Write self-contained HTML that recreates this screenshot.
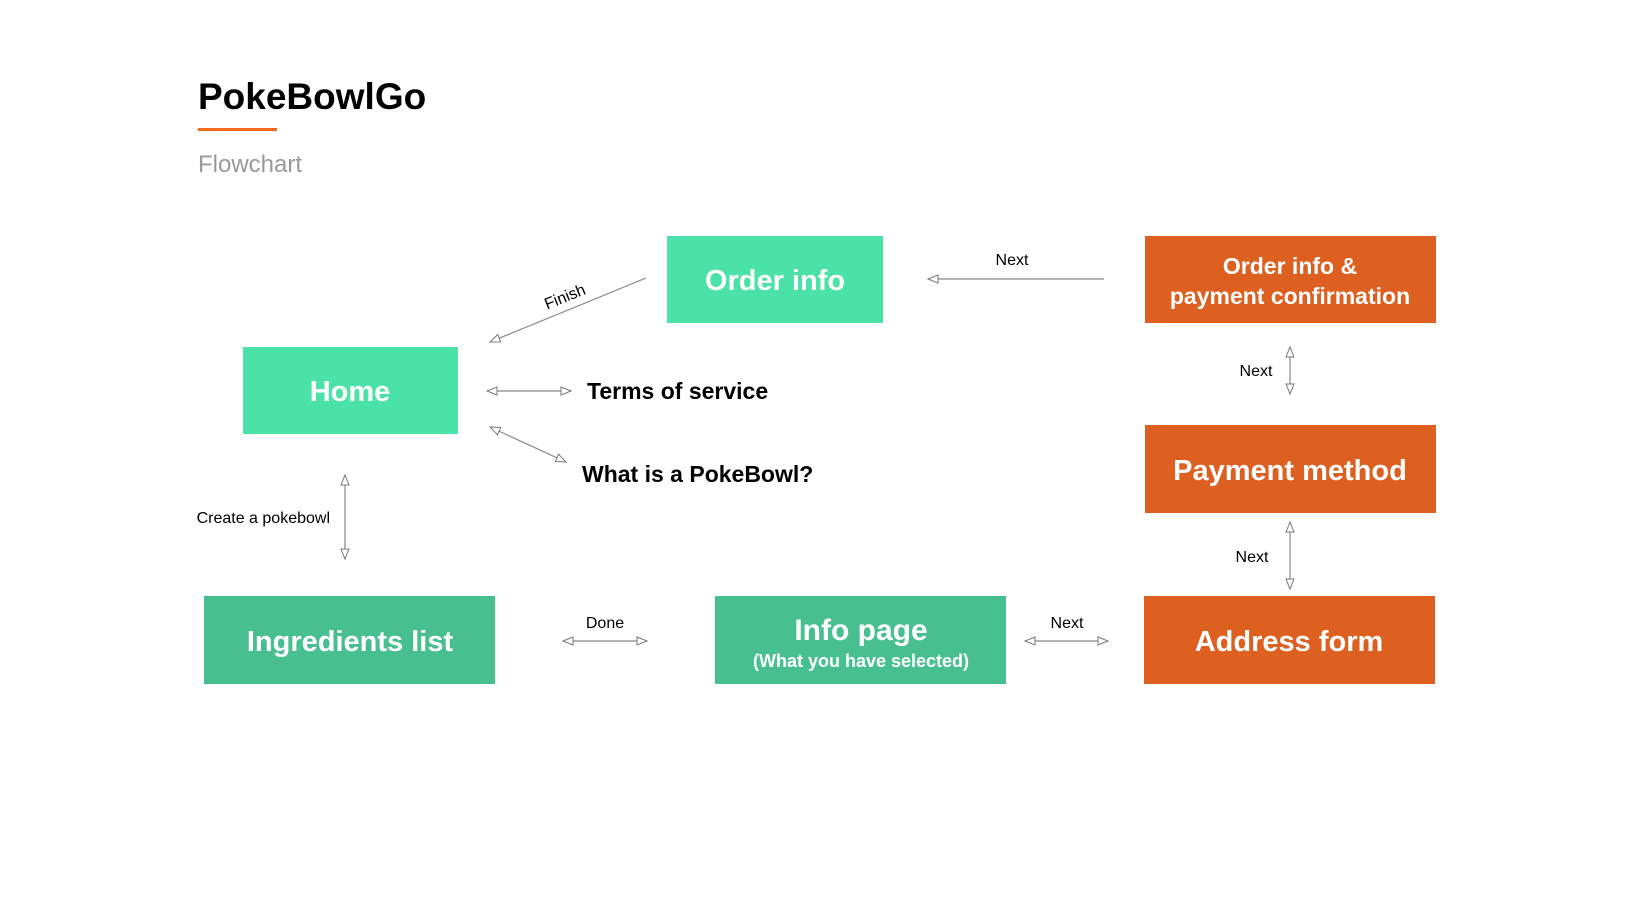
<!DOCTYPE html>
<html><head><meta charset="utf-8"><style>
html,body{margin:0;padding:0;background:#fff;}
body{width:1635px;height:920px;position:relative;overflow:hidden;font-family:"Liberation Sans",sans-serif;}
</style></head><body>
<svg width="1635" height="920" viewBox="0 0 1635 920" xmlns="http://www.w3.org/2000/svg" style="position:absolute;left:0;top:0">
<defs>
<marker id="a" viewBox="0 0 12 10" refX="11" refY="5" markerWidth="12" markerHeight="10" markerUnits="userSpaceOnUse" orient="auto-start-reverse">
<path d="M1,1 L11,5 L1,9 Z" fill="#fff" stroke="#777" stroke-width="1"/>
</marker>
</defs>
<g font-family="Liberation Sans, sans-serif">
<text x="198" y="109" font-size="37" font-weight="bold" fill="#000">PokeBowlGo</text>
<rect x="198" y="128" width="79" height="3" fill="#f26a1b"/>
<text x="198" y="172" font-size="24" fill="#999">Flowchart</text>

<rect x="667" y="236" width="216" height="87" fill="#4ae2a6"/>
<text x="775" y="290" font-size="29" font-weight="bold" fill="#fff" text-anchor="middle">Order info</text>
<rect x="243" y="347" width="215" height="87" fill="#4ae2a6"/>
<text x="350" y="401" font-size="29" font-weight="bold" fill="#fff" text-anchor="middle">Home</text>

<rect x="1145" y="236" width="291" height="87" fill="#dd6020"/>
<text x="1290" y="274" font-size="23" font-weight="bold" fill="#fff" text-anchor="middle">Order info &amp;</text>
<text x="1290" y="304" font-size="23" font-weight="bold" fill="#fff" text-anchor="middle">payment confirmation</text>
<rect x="1145" y="425" width="291" height="88" fill="#dd6020"/>
<text x="1290" y="480" font-size="29" font-weight="bold" fill="#fff" text-anchor="middle">Payment method</text>
<rect x="1144" y="596" width="291" height="88" fill="#dd6020"/>
<text x="1289" y="651" font-size="29" font-weight="bold" fill="#fff" text-anchor="middle">Address form</text>

<rect x="204" y="596" width="291" height="88" fill="#47bf8f"/>
<text x="350" y="651" font-size="29" font-weight="bold" fill="#fff" text-anchor="middle">Ingredients list</text>
<rect x="715" y="596" width="291" height="88" fill="#47bf8f"/>
<text x="861" y="640" font-size="30" font-weight="bold" fill="#fff" text-anchor="middle">Info page</text>
<text x="861" y="667" font-size="18" font-weight="bold" fill="#fff" text-anchor="middle">(What you have selected)</text>

<text x="587" y="399" font-size="23" font-weight="bold" fill="#000">Terms of service</text>
<text x="582" y="482" font-size="23" font-weight="bold" fill="#000">What is a PokeBowl?</text>

<g stroke="#888" stroke-width="1.2" fill="none">
<line x1="646" y1="278" x2="490" y2="342" marker-end="url(#a)"/>
<line x1="1104" y1="279" x2="928" y2="279" marker-end="url(#a)"/>
<line x1="487" y1="391" x2="571" y2="391" marker-start="url(#a)" marker-end="url(#a)"/>
<line x1="490" y1="427" x2="566" y2="462" marker-start="url(#a)" marker-end="url(#a)"/>
<line x1="345" y1="475" x2="345" y2="559" marker-start="url(#a)" marker-end="url(#a)"/>
<line x1="563" y1="641" x2="647" y2="641" marker-start="url(#a)" marker-end="url(#a)"/>
<line x1="1025" y1="641" x2="1108" y2="641" marker-start="url(#a)" marker-end="url(#a)"/>
<line x1="1290" y1="347" x2="1290" y2="394" marker-start="url(#a)" marker-end="url(#a)"/>
<line x1="1290" y1="522" x2="1290" y2="589" marker-start="url(#a)" marker-end="url(#a)"/>
</g>
<g font-size="16" fill="#000">
<text x="565" y="302" text-anchor="middle" transform="rotate(-22 565 297)">Finish</text>
<text x="1012" y="265" text-anchor="middle">Next</text>
<text x="330" y="523" text-anchor="end">Create a pokebowl</text>
<text x="605" y="628" text-anchor="middle">Done</text>
<text x="1067" y="628" text-anchor="middle">Next</text>
<text x="1256" y="376" text-anchor="middle">Next</text>
<text x="1252" y="562" text-anchor="middle">Next</text>
</g>
</g>
</svg>
</body></html>
